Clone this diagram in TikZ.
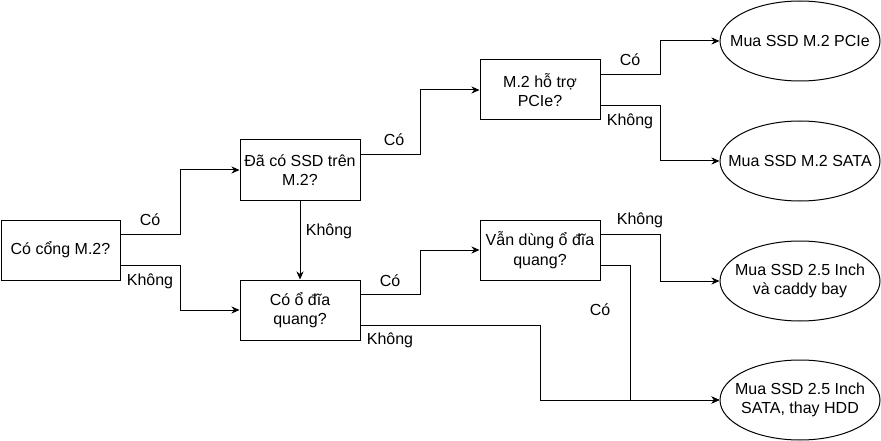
\documentclass[tikz,border=0pt]{standalone}
\usepackage{fontspec}
\setmainfont{Liberation Sans}
\usetikzlibrary{shapes.geometric,arrows.meta,calc}
\tikzset{
  qbox/.style={draw, rectangle, line width=1pt, minimum width=120pt, minimum height=60pt, inner sep=0pt, align=center, font=\fontsize{16pt}{19.5pt}\selectfont},
  endell/.style={draw, ellipse, line width=1pt, minimum width=160pt, minimum height=80pt, inner sep=0pt},
  etext/.style={inner sep=0pt, align=center, font=\fontsize{16pt}{19.5pt}\selectfont},
  lbl/.style={inner sep=0pt, font=\fontsize{16pt}{19.5pt}\selectfont},
  arr/.style={line width=1pt, -{Stealth[length=8pt,width=7pt,inset=2.5pt]}}
}
\begin{document}
\begin{tikzpicture}[x=1pt,y=-1pt]
\useasboundingbox (0,0) rectangle (881,441);
% decision boxes
\node[qbox, minimum width=119pt] (A) at (60.5,250) {Có cổng M.2?};
\node[qbox] (B) at (300,170) {Đã có SSD trên\\M.2?};
\node[qbox] (C) at (300,310) {Có ổ đĩa\\quang?};
\node[qbox] (D) at (540,90) {M.2 hỗ trợ\\PCIe?};
\node[qbox] (E) at (540,250) {Vẫn dùng ổ đĩa\\quang?};
% end ellipses
\node[endell] (F) at (800,41) {};
\node[endell] (G) at (800,161) {};
\node[endell] (H) at (800,281) {};
\node[endell] (I) at (800,400) {};
\node[etext] (Ft) at (F.center) {Mua SSD M.2 PCIe};
\node[etext] (Gt) at (G.center) {Mua SSD M.2 SATA};
\node[etext] (Ht) at (H.center) {Mua SSD 2.5 Inch\\và caddy bay};
\node[etext] (It) at (I.center) {Mua SSD 2.5 Inch\\SATA, thay HDD};
% exit points
\coordinate (a1) at ($(A.north east)!0.25!(A.south east)$);
\coordinate (a2) at ($(A.north east)!0.75!(A.south east)$);
\coordinate (b1) at ($(B.north east)!0.25!(B.south east)$);
\coordinate (c1) at ($(C.north east)!0.25!(C.south east)$);
\coordinate (c2) at ($(C.north east)!0.75!(C.south east)$);
\coordinate (d1) at ($(D.north east)!0.25!(D.south east)$);
\coordinate (d2) at ($(D.north east)!0.75!(D.south east)$);
\coordinate (e1) at ($(E.north east)!0.25!(E.south east)$);
\coordinate (e2) at ($(E.north east)!0.75!(E.south east)$);
% connectors
\draw[arr] (a1) -- ++(60,0) |- (B.west);
\draw[arr] (a2) -- ++(60,0) |- (C.west);
\draw[arr] (B.south) -- (C.north);
\draw[arr] (b1) -- ++(60,0) |- (D.west);
\draw[arr] (c1) -- ++(60,0) |- (E.west);
\draw[arr] (c2) -- ++(180,0) |- (I.west);
\draw[arr] (d1) -- ++(60,0) |- (F.west);
\draw[arr] (d2) -- ++(60,0) |- (G.west);
\draw[arr] (e1) -- ++(60,0) |- (H.west);
\draw[arr] (e2) -- ++(30,0) |- (I.west);
% labels
\node[lbl] (l1) at (150,220) {Có};
\node[lbl] (l2) at (150,281) {Không};
\node[lbl] (l3) at (329,231) {Không};
\node[lbl] (l4) at (394,140) {Có};
\node[lbl] (l5) at (390,281) {Có};
\node[lbl] (l6) at (390,340) {Không};
\node[lbl] (l7) at (630,60) {Có};
\node[lbl] (l8) at (630,121) {Không};
\node[lbl] (l9) at (640,220) {Không};
\node[lbl] (l10) at (600,310) {Có};
\end{tikzpicture}
\end{document}
